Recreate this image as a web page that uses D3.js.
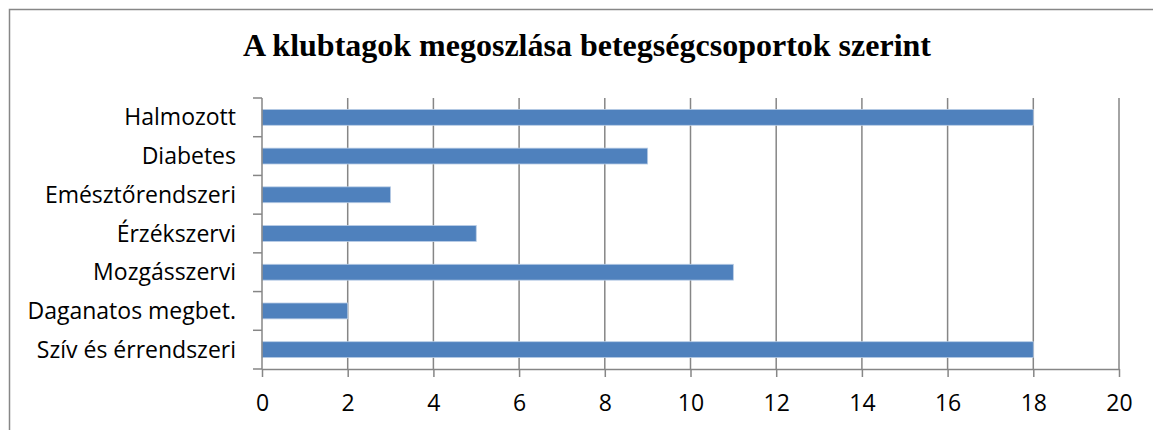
<!DOCTYPE html>
<html>
<head>
<meta charset="utf-8">
<script src="https://cdn.jsdelivr.net/npm/d3@7"></script>
<style>
  body { margin: 0; background: #fff; }
  svg { display: block; }
</style>
</head>
<body>
<svg id="chart" width="1153" height="430"></svg>
<script>
// data, top to bottom as drawn
let categories = ["Halmozott", "Diabetes", "Emésztőrendszeri", "Érzékszervi",
                  "Mozgásszervi", "Daganatos megbet.", "Szív és érrendszeri"],
    values = [18, 9, 3, 5, 11, 2, 18],
    x_ticks = [0, 2, 4, 6, 8, 10, 12, 14, 16, 18, 20],
    title = "A klubtagok megoszlása betegségcsoportok szerint";

let width = 1153,
    height = 430,
    margins = {top: 98, bottom: 61, left: 262, right: 34},
    label_font = "'Open Sans', 'Noto Sans', sans-serif";

let svg = d3.select("#chart");

// outer chart frame (runs off the right and bottom edge)
svg.append("rect")
  .attr("x", 9.5).attr("y", 9.5)
  .attr("width", 1300).attr("height", 600)
  .attr("fill", "none")
  .attr("stroke", "#878787")
  .attr("stroke-width", 1.5);

svg.append("text")
  .attr("x", 587).attr("y", 56)
  .attr("text-anchor", "middle")
  .attr("font-family", "'Liberation Serif', 'Times New Roman', serif")
  .attr("font-weight", "bold")
  .attr("font-size", 32)
  .text(title);

let x = d3.scaleLinear()
  .domain([0, 20])
  .range([margins.left, width - margins.right]);

let y = d3.scaleBand()
  .domain(categories)
  .range([margins.top, height - margins.bottom])
  .paddingInner(0.59)
  .paddingOuter(0.295);

let plot_bottom = height - margins.bottom;

// vertical gridlines
svg.append("g")
  .selectAll("line")
  .data(x_ticks.filter(d => d > 0))
  .enter().append("line")
  .attr("x1", d => x(d)).attr("x2", d => x(d))
  .attr("y1", margins.top).attr("y2", plot_bottom)
  .attr("stroke", "#868686")
  .attr("stroke-width", 1.5);

// bars
svg.append("g")
  .selectAll("rect")
  .data(values)
  .enter().append("rect")
  .attr("x", x(0))
  .attr("y", (d, i) => y(categories[i]))
  .attr("width", d => x(d) - x(0))
  .attr("height", y.bandwidth())
  .attr("fill", "#4f81bd")
  .attr("stroke", "#b9cde5")
  .attr("stroke-width", 0.8);

// x axis
let x_axis = d3.axisBottom(x)
  .tickValues(x_ticks)
  .tickSize(8)
  .tickPadding(18)
  .tickSizeOuter(0);

let gx = svg.append("g")
  .attr("transform", `translate(0,${plot_bottom})`)
  .call(x_axis);

gx.select(".domain").attr("stroke", "#868686").attr("stroke-width", 1.5);
gx.selectAll(".tick line").attr("stroke", "#868686").attr("stroke-width", 1.5);
gx.selectAll(".tick text")
  .attr("font-family", label_font)
  .attr("font-size", 23)
  .attr("fill", "#000");

// y axis: ticks sit between categories
let boundaries = d3.range(categories.length + 1)
  .map(i => margins.top + i * (plot_bottom - margins.top) / categories.length);

let gy = svg.append("g");
gy.append("line")
  .attr("x1", x(0)).attr("x2", x(0))
  .attr("y1", margins.top).attr("y2", plot_bottom)
  .attr("stroke", "#868686").attr("stroke-width", 1.5);
gy.selectAll(".tk")
  .data(boundaries)
  .enter().append("line")
  .attr("x1", x(0) - 9).attr("x2", x(0))
  .attr("y1", d => d).attr("y2", d => d)
  .attr("stroke", "#868686").attr("stroke-width", 1.5);
gy.selectAll("text")
  .data(categories)
  .enter().append("text")
  .attr("x", x(0) - 26)
  .attr("y", d => y(d) + y.bandwidth() / 2)
  .attr("dy", "0.35em")
  .attr("text-anchor", "end")
  .attr("font-family", label_font)
  .attr("font-size", 23)
  .text(d => d);
</script>
</body>
</html>
